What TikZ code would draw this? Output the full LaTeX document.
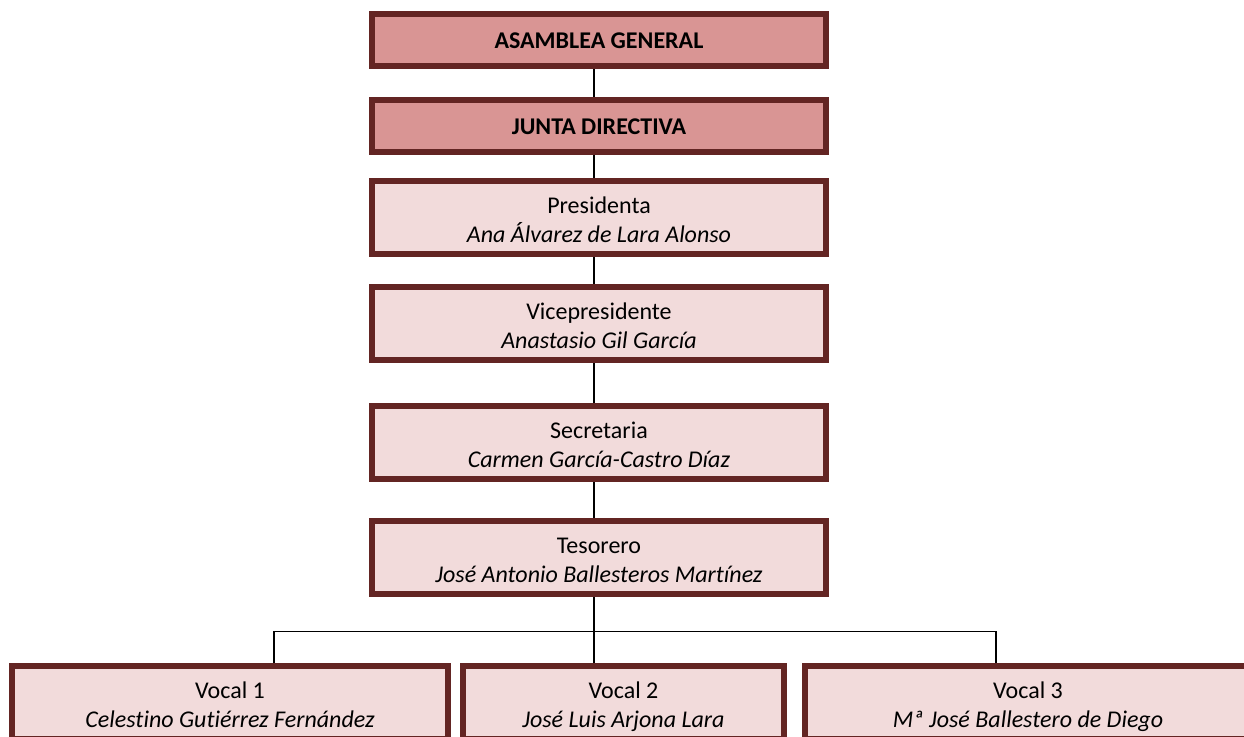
\documentclass[tikz,border=0pt]{standalone}
\usepackage{fontspec}
\setmainfont{Carlito}[Ligatures=NoCommon]
\usetikzlibrary{positioning}
\definecolor{borde}{HTML}{632523}
\definecolor{rosaoscuro}{HTML}{D99594}
\definecolor{rosaclaro}{HTML}{F2DBDB}
\newcommand{\altocargo}{\rule{0pt}{14pt}}

\begin{document}
\begin{tikzpicture}[
                every node/.style={font=\fontsize{12pt}{14.5pt}\selectfont},
                align=center,
                organo/.style={rectangle, draw=borde, fill=rosaoscuro, line width=3pt, minimum width=227pt, minimum height=26pt, font=\fontsize{12pt}{14.5pt}\selectfont\bfseries},
                cargo/.style={rectangle, draw=borde, fill=rosaclaro, line width=3pt, inner ysep=0pt, minimum width=227pt, minimum height=36.5pt},
                vocal/.style={cargo, minimum width=#1},
                line/.style={draw, black, line width=0.75pt},
                ]

                % Page frame
                \useasboundingbox[clip] (0,0) rectangle (622pt,-368.5pt);

                % Main column
                \node [organo] (asamblea) at (299.5pt,-20.25pt) {ASAMBLEA GENERAL};
                \node [organo, below=14pt of asamblea] (junta) {JUNTA DIRECTIVA};
                \node [cargo, below=11.5pt of junta] (presidenta) {\altocargo Presidenta\\ \textit{Ana Álvarez de Lara Alonso}\strut};
                \node [cargo, below=13.5pt of presidenta] (vicepresidente) {\altocargo Vicepresidente\\ \textit{Anastasio Gil García}\strut};
                \node [cargo, below=20pt of vicepresidente] (secretaria) {\altocargo Secretaria\\ \textit{Carmen García-Castro Díaz}\strut};
                \node [cargo, below=18pt of secretaria] (tesorero) {\altocargo Tesorero\\ \textit{José Antonio Ballesteros Martínez}\strut};

                % Vocales in one row
                \node [vocal=160.5pt, below=33pt of tesorero, xshift=12.25pt] (vocal2) {\altocargo Vocal 2\\ \textit{José Luis Arjona Lara}\strut};
                \node [vocal=218pt, left=4.5pt of vocal2] (vocal1) {\altocargo Vocal 1\\ \textit{Celestino Gutiérrez Fernández}\strut};
                \node [vocal=223pt, right=7.5pt of vocal2] (vocal3) {\altocargo Vocal 3\\ \textit{Mª José Ballestero de Diego}\strut};

                % Connectors down the column
                \draw[line] ([xshift=-2.5pt]asamblea.south) -- ([xshift=-2.5pt]junta.north);
                \draw[line] ([xshift=-2.5pt]junta.south) -- ([xshift=-2.5pt]presidenta.north);
                \draw[line] ([xshift=-2.5pt]presidenta.south) -- ([xshift=-2.5pt]vicepresidente.north);
                \draw[line] ([xshift=-2.5pt]vicepresidente.south) -- ([xshift=-2.5pt]secretaria.north);
                \draw[line] ([xshift=-2.5pt]secretaria.south) -- ([xshift=-2.5pt]tesorero.north);

                % Bus to the vocales
                \coordinate (bus) at ([xshift=-2.5pt,yshift=-17pt]tesorero.south);
                \coordinate (drop1) at ([xshift=22pt]vocal1.north);
                \coordinate (drop3) at ([xshift=-16pt]vocal3.north);
                \draw[line] ([xshift=-2.5pt]tesorero.south) -- (bus);
                \draw[line] (bus -| drop1) -- (bus -| drop3);
                \draw[line] (bus -| drop1) -- (drop1);
                \draw[line] (bus) -- (bus |- vocal2.north);
                \draw[line] (bus -| drop3) -- (drop3);

            \end{tikzpicture}
\end{document}
